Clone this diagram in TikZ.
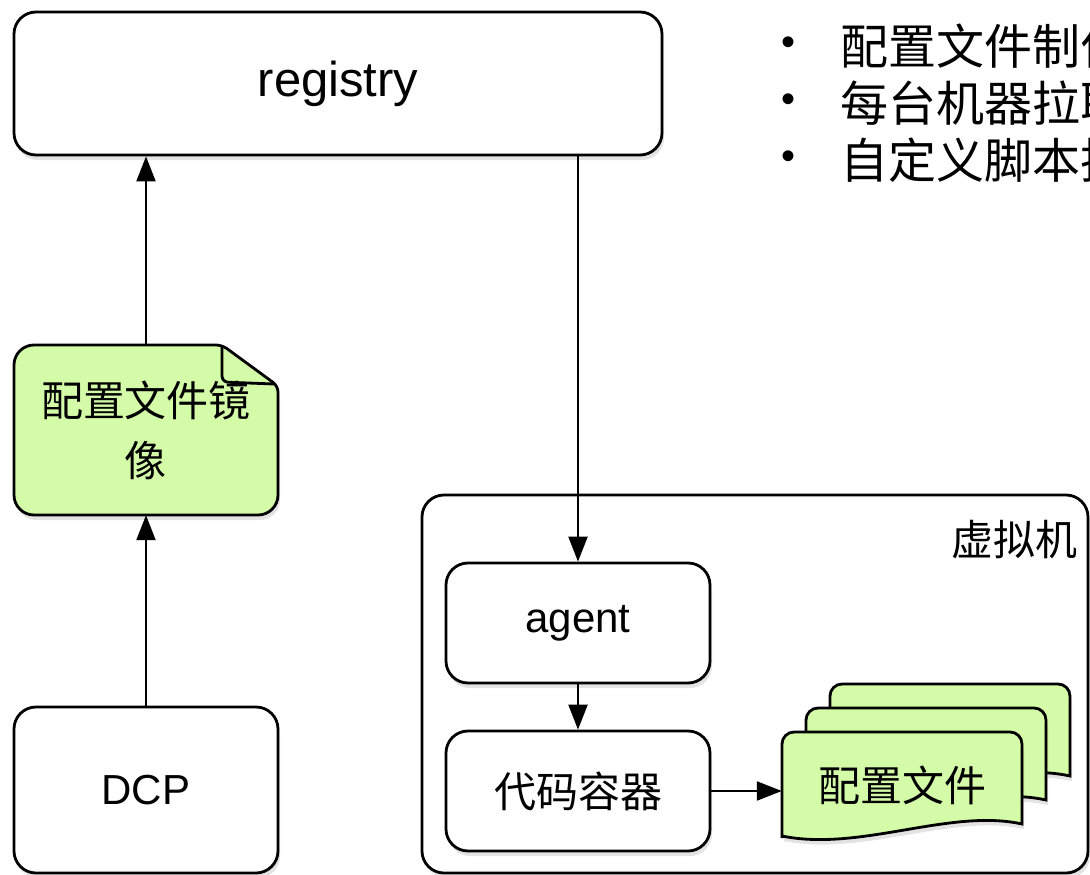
\documentclass[tikz,border=0pt]{standalone}
\usepackage{fontspec}
\setmainfont{Liberation Sans}
\newfontfamily\cjk{Noto Sans CJK SC}
\usetikzlibrary{arrows.meta,shadows}

\definecolor{docgreen}{RGB}{212,251,168}

\begin{document}
\begin{tikzpicture}[x=1pt,y=-1pt,
  box/.style={draw, line width=2.8pt, rounded corners=22pt, fill=white, inner sep=0pt,
    drop shadow={opacity=0.22, shadow xshift=2pt, shadow yshift=-5pt},
    font=\fontsize{42pt}{50pt}\selectfont},
  doc/.style={draw, line width=2.8pt, fill=docgreen,
    drop shadow={opacity=0.22, shadow xshift=2pt, shadow yshift=-5pt}},
  label/.style={inner sep=0pt, font=\fontsize{42pt}{60pt}\selectfont\cjk},
  link/.style={line width=2.2pt, -{Triangle[length=25pt,width=19pt]}}]

\useasboundingbox (0,0) rectangle (1090,875);
\clip (0,0) rectangle (1090,875);

% boxes
\node[box, minimum width=648pt, minimum height=143pt, font=\fontsize{49pt}{56pt}\selectfont] (registry) at (338,83.5) {registry};
\node[box, minimum width=264pt, minimum height=166pt] (dcp) at (146,790) {DCP};
\node[box, minimum width=666pt, minimum height=378pt] (vm) at (755,684) {};
\node[label, anchor=east] (vmlabel) at (1078,540) {虚拟机};
\node[box, minimum width=264pt, minimum height=120pt] (agent) at (578,623) {agent};
\node[box, minimum width=264pt, minimum height=120pt, font=\fontsize{42pt}{50pt}\selectfont\cjk] (code) at (578,791) {代码容器};

% image file
\filldraw[doc] (14,430) [rounded corners=20pt] -- (14,345) [rounded corners=6pt] -- (222,345) -- (278,386)
  [rounded corners=20pt] -- (278,515) -- (14,515) -- cycle;
\draw[line width=2.8pt, rounded corners=6pt] (222,347) -- (222,382) -- (274,384);
\node[label, align=center, minimum width=264pt, minimum height=170pt] (img) at (146,430) {配置文件镜\\像};

% config files
\foreach \d in {48,24,0}
  \filldraw[doc, shift={(\d,-\d)}] (782,838) [rounded corners=12pt] -- (782,732) -- (1022,732) [sharp corners] -- (1022,824)
    .. controls (950,808) and (860,852) .. (782,836) -- cycle;
\node[label, minimum width=240pt, minimum height=106pt] (cfg) at (902,785) {配置文件};

% arrows
\draw[link] (dcp) -- (img);
\draw[link] (img) -- (registry.south -| img.north);
\draw[link] (registry.south -| agent.north) -- (agent.north);
\draw[link] (agent) -- (code);
\draw[link] (code.east) -- (code.east -| cfg.west);

% notes
\foreach \txt [count=\i] in {配置文件制作, 每台机器拉取, 自定义脚本执行} {
  \node[inner sep=0pt, font=\fontsize{40pt}{48pt}\selectfont] (bullet\i) at (788, {46+57*(\i-1)}) {•};
  \node[label, anchor=west, font=\fontsize{48pt}{56pt}\selectfont\cjk] (item\i) at (840, {46+57*(\i-1)}) {\txt};
}

\end{tikzpicture}
\end{document}
